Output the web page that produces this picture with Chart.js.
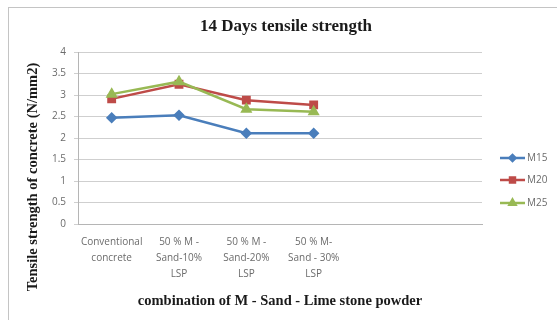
<!DOCTYPE html>
<html>
<head>
<meta charset="utf-8">
<script src="https://cdn.jsdelivr.net/npm/chart.js@4/dist/chart.umd.min.js"></script>
<style>
  html, body { margin: 0; padding: 0; background: #fff; overflow: hidden; }
  #wrap { position: relative; width: 557px; height: 320px; }
  #frame { position: absolute; left: 8px; top: 7px; width: 600px; height: 400px; border: 1px solid #c4c4c4; }
  canvas { position: absolute; left: 0; top: 0; }
</style>
</head>
<body>
<div id="wrap">
  <div id="frame"></div>
  <canvas id="c" width="557" height="320"></canvas>
</div>
<script>
const categories = [
  ['Conventional', 'concrete'],
  ['50 % M -', 'Sand-10%', 'LSP'],
  ['50 % M -', 'Sand-20%', 'LSP'],
  ['50 % M-', 'Sand - 30%', 'LSP'],
  '',
  ''
]
const m15 = [2.47, 2.53, 2.11, 2.11]
const m20 = [2.91, 3.25, 2.88, 2.77]
const m25 = [3.02, 3.31, 2.67, 2.61]
const seriesNames = ['M15', 'M20', 'M25']

const chartTitle = '14 Days tensile strength'
const yTitle = 'Tensile strength of concrete (N/mm2)'
const xTitle = 'combination of M - Sand - Lime stone powder'

const serif = "'Liberation Serif', 'Times New Roman', serif"
const sans = "'Open Sans', 'Liberation Sans', sans-serif"
const tickColor = '#6b6b6b'

// titles and the line-with-marker legend, placed like the Excel original
const extras = {
  id: 'extras',
  afterDraw(chart) {
    const ctx = chart.ctx
    ctx.save()
    ctx.fillStyle = '#1a1a1a'
    ctx.textAlign = 'center'
    ctx.textBaseline = 'middle'
    ctx.font = 'bold 17px ' + serif
    ctx.fillText(chartTitle, 286, 27)

    ctx.translate(33, 177)
    ctx.rotate(-Math.PI / 2)
    ctx.font = 'bold 14.5px ' + serif
    ctx.fillText(yTitle, 0, 0)
    ctx.restore()

    const ys = [158, 180, 203]
    chart.data.datasets.forEach((ds, i) => {
      const y = ys[i]
      ctx.save()
      ctx.strokeStyle = ds.borderColor
      ctx.lineWidth = 2.5
      ctx.beginPath()
      ctx.moveTo(500, y)
      ctx.lineTo(525, y)
      ctx.stroke()
      ctx.fillStyle = ds.pointBackgroundColor
      ctx.strokeStyle = ds.borderColor
      Chart.helpers.drawPoint(ctx, {
        pointStyle: ds.pointStyle,
        radius: ds.pointRadius - 1,
        rotation: 0,
        borderWidth: 1
      }, 512.5, y)
      ctx.fillStyle = tickColor
      ctx.font = '10px ' + sans
      ctx.textAlign = 'left'
      ctx.textBaseline = 'middle'
      ctx.fillText(ds.label, 527, y)
      ctx.restore()
    })
  }
}

new Chart(document.getElementById('c'), {
  type: 'line',
  data: {
    labels: categories,
    datasets: [
      {
        label: seriesNames[0], data: m15,
        borderColor: '#4a7ebb', backgroundColor: '#4a7ebb', pointBackgroundColor: '#4a7ebb',
        pointStyle: 'rectRot', pointRadius: 4, borderWidth: 2.5, order: 3
      },
      {
        label: seriesNames[1], data: m20,
        borderColor: '#be4b48', backgroundColor: '#be4b48', pointBackgroundColor: '#be4b48',
        pointStyle: 'rect', pointRadius: 4.5, borderWidth: 2.5, order: 2
      },
      {
        label: seriesNames[2], data: m25,
        borderColor: '#98b954', backgroundColor: '#98b954', pointBackgroundColor: '#98b954',
        pointStyle: 'triangle', pointRadius: 4.5, borderWidth: 2.5, order: 1
      }
    ]
  },
  options: {
    responsive: false,
    animation: false,
    layout: { padding: { left: 48, right: 75, top: 52, bottom: 0 } },
    plugins: {
      legend: { display: false },
      tooltip: { enabled: false }
    },
    scales: {
      x: {
        offset: true,
        grid: { display: false, drawTicks: false },
        border: { display: true, color: '#b5b5b5', width: 1 },
        ticks: {
          autoSkip: false, maxRotation: 0, minRotation: 0,
          padding: 10, color: tickColor,
          font: { family: sans, size: 10, lineHeight: '16px' }
        },
        title: {
          display: true, text: xTitle, color: '#1a1a1a',
          font: { family: serif, size: 14.5, weight: 'bold' },
          padding: { top: 0, bottom: 10 }
        },
        afterFit(scale) { scale.height = 96 }
      },
      y: {
        min: 0, max: 4,
        ticks: {
          stepSize: 0.5, padding: 8, color: tickColor,
          font: { family: sans, size: 10 },
          callback: v => String(Math.round(v * 10) / 10)
        },
        grid: { color: '#cfcfcf', lineWidth: 1, tickLength: 4 },
        border: { display: true, color: '#b5b5b5', width: 1 },
        afterFit(scale) { scale.width = 30 }
      }
    }
  },
  plugins: [extras]
})
</script>
</body>
</html>
